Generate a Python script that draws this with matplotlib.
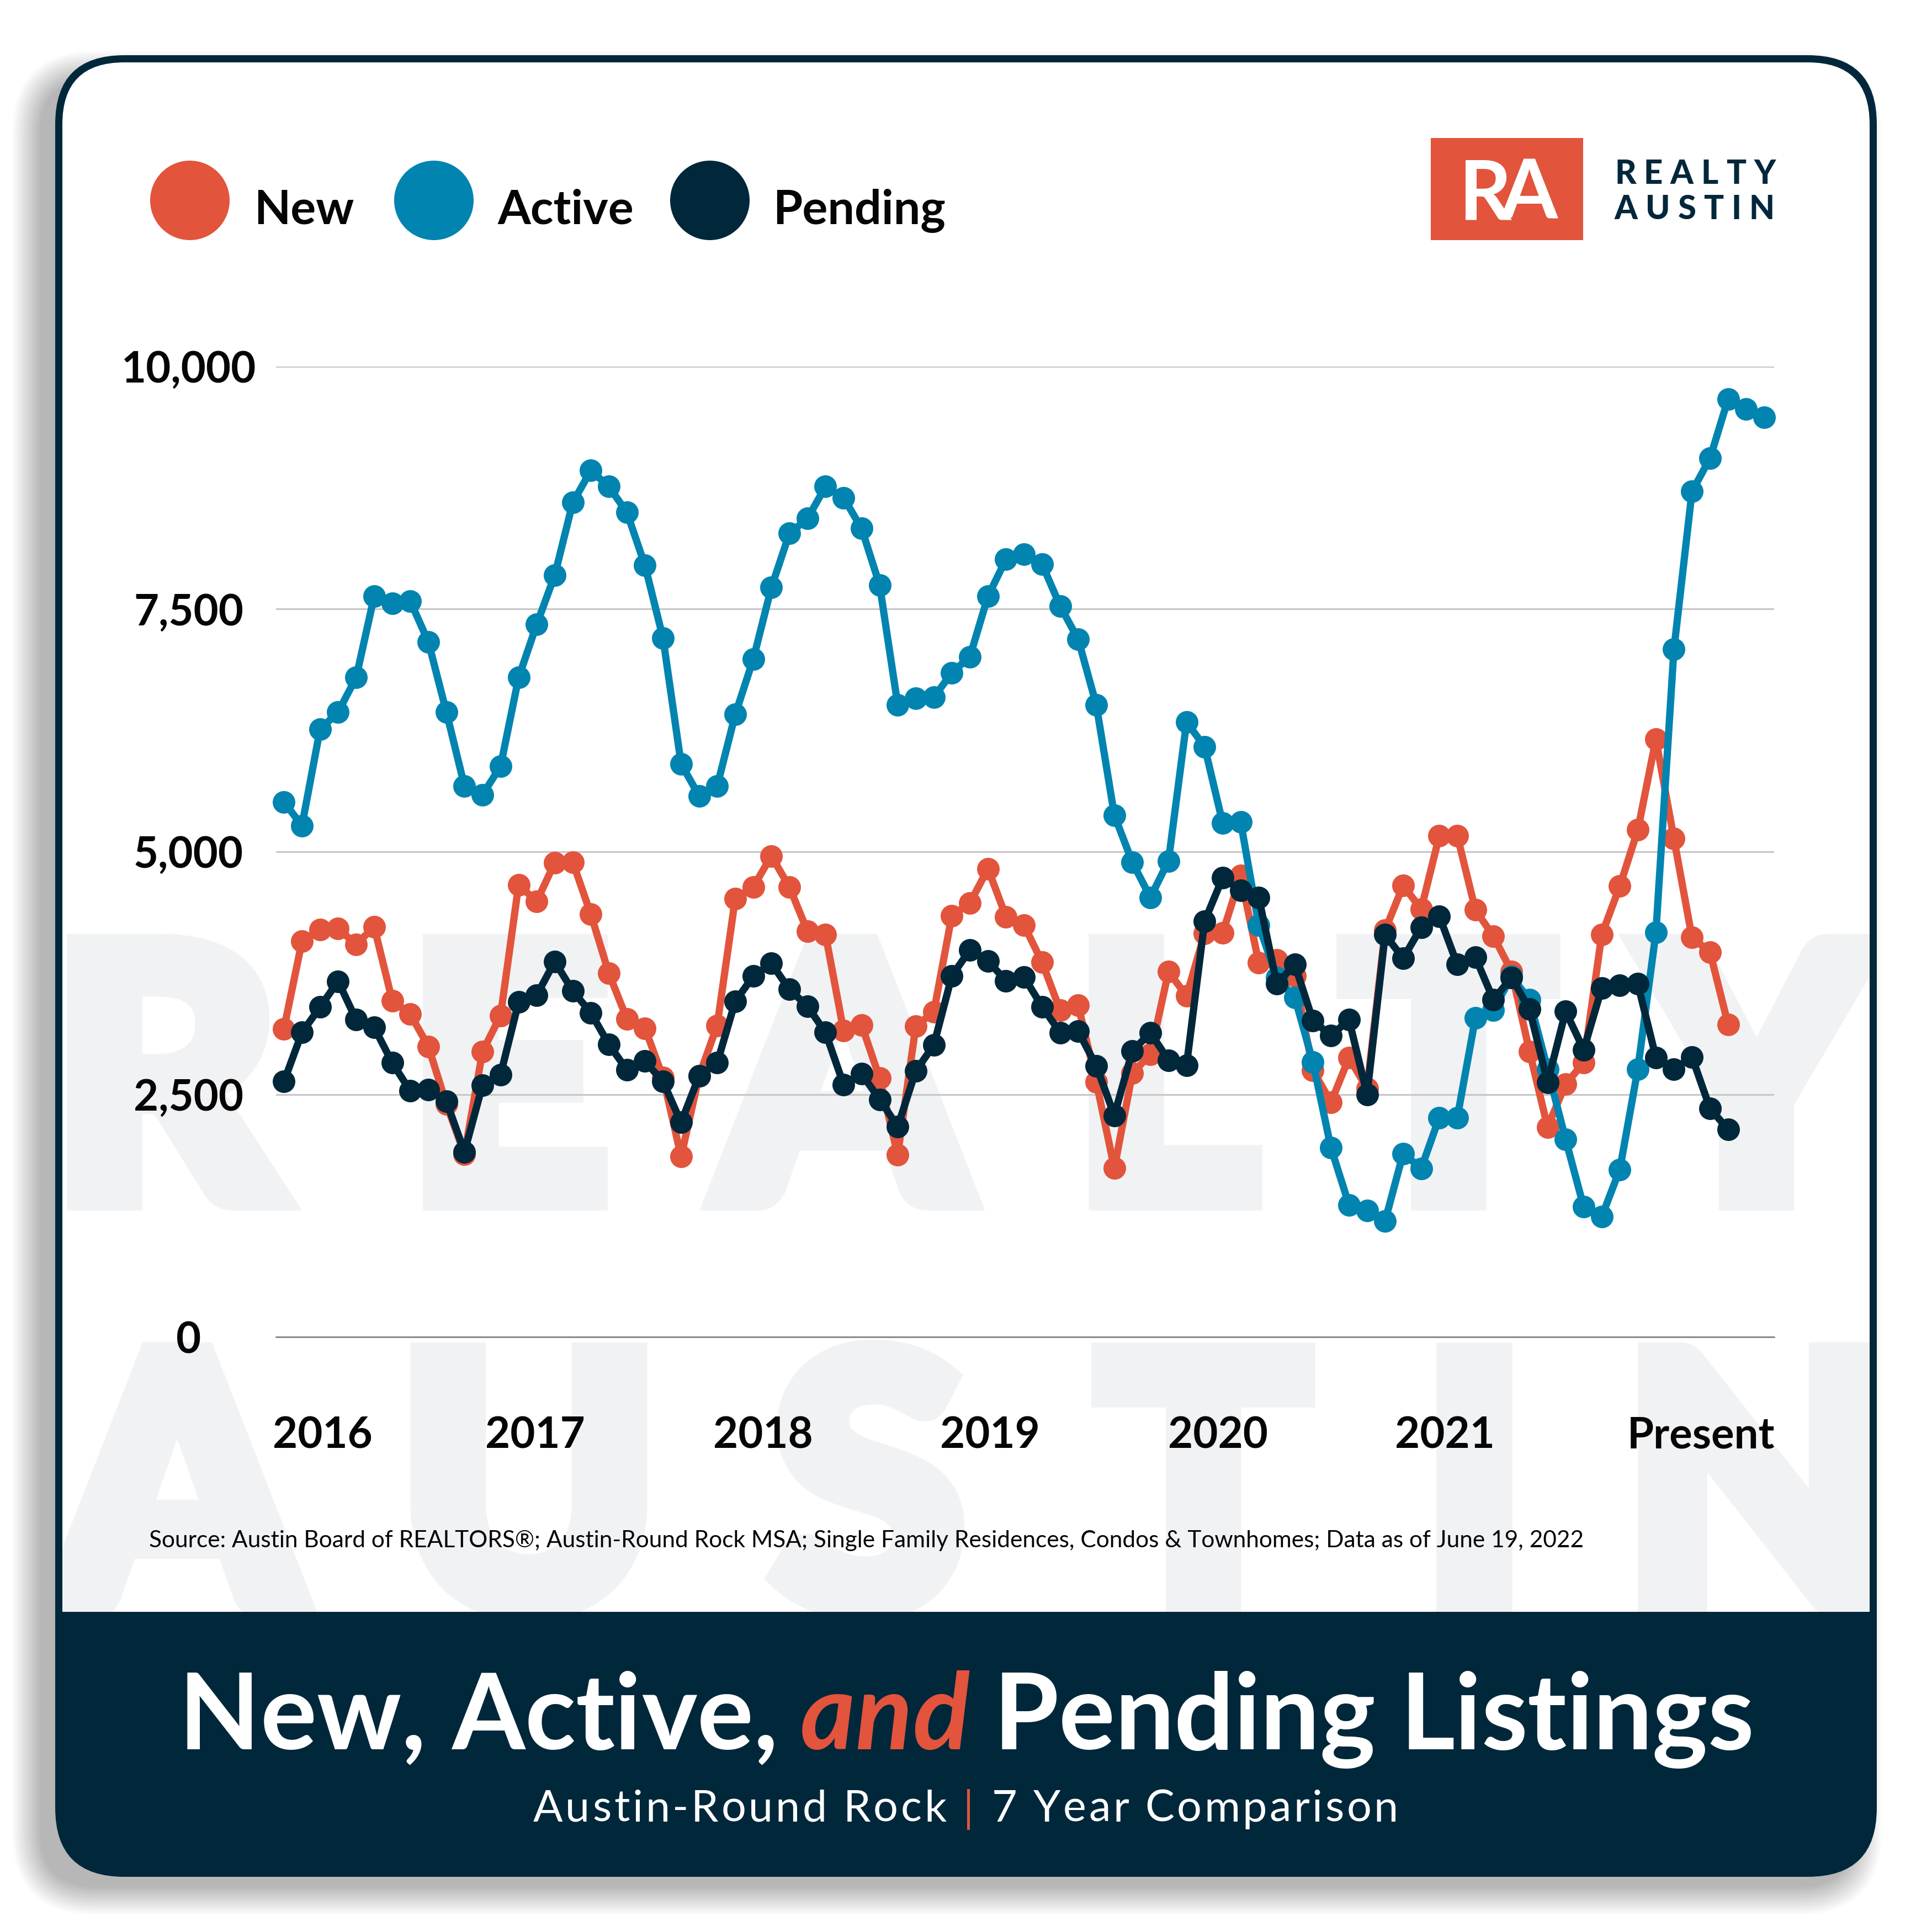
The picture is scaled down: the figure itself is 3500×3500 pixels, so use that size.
import matplotlib
matplotlib.use('Agg')
import matplotlib.pyplot as plt
import matplotlib.patheffects as pe
from matplotlib.font_manager import FontProperties
from matplotlib.patches import Circle, FancyBboxPatch, Rectangle

new_listings = [3176, 4078, 4197, 4208, 4046, 4226, 3466, 3327, 2993, 2399, 1883, 2941, 3312, 4661, 4487,
                4887, 4893, 4356, 3747, 3277, 3182, 2674, 1859, 2689, 3211, 4516, 4637, 4957, 4637, 4182,
                4147, 3158, 3216, 2666, 1877, 3202, 3350, 4343, 4470, 4826, 4330, 4242, 3861, 3365, 3416,
                2629, 1739, 2717, 2913, 3765, 3515, 4156, 4163, 4754, 3855, 3884, 3721, 2750, 2417, 2877,
                2562, 4192, 4652, 4409, 5163, 5163, 4402, 4130, 3768, 2942, 2163, 2605, 2826, 4145, 4645,
                5225, 6159, 5134, 4116, 3964, 3221]
active_listings = [5512, 5270, 6261, 6439, 6795, 7633, 7557, 7582, 7163, 6439, 5677, 5588, 5880, 6795, 7341,
                   7849, 8598, 8928, 8763, 8496, 7950, 7201, 5906, 5575, 5677, 6414, 6985, 7722, 8280, 8433,
                   8763, 8649, 8331, 7747, 6515, 6579, 6591, 6845, 7010, 7633, 8014, 8065, 7963, 7531, 7188,
                   6515, 5377, 4891, 4529, 4906, 6337, 6083, 5297, 5308, 4246, 3703, 3496, 2833, 1949, 1362,
                   1304, 1196, 1891, 1736, 2261, 2261, 3286, 3370, 3714, 3475, 2761, 2036, 1341, 1239, 1725,
                   2761, 4167, 7087, 8712, 9055, 9665, 9563, 9474]
pending_listings = [2631, 3138, 3399, 3666, 3269, 3190, 2825, 2535, 2550, 2428, 1906, 2596, 2703, 3451, 3521,
                    3869, 3565, 3341, 3014, 2753, 2842, 2631, 2210, 2689, 2825, 3457, 3718, 3849, 3582, 3408,
                    3138, 2602, 2712, 2448, 2167, 2741, 3008, 3721, 3988, 3874, 3670, 3708, 3404, 3137, 3150,
                    2794, 2283, 2949, 3134, 2852, 2797, 4283, 4732, 4601, 4529, 3638, 3837, 3261, 3105, 3268,
                    2500, 4145, 3902, 4221, 4337, 3837, 3913, 3475, 3703, 3377, 2623, 3355, 2960, 3594, 3623,
                    3638, 2880, 2761, 2884, 2355, 2138]

y_ticks = [0, 2500, 5000, 7500, 10000]
x_tick_labels = ['2016', '2017', '2018', '2019', '2020', '2021', 'Present']
x_tick_spots = [2.15, 13.9, 26.55, 39.1, 51.75, 64.3, 78.5]

RED = '#e2543c'
BLUE = '#0284b0'
NAVY = '#01273b'
INK = '#050505'
MARK = '#f1f2f4'
FONT = 'Lato'

fig = plt.figure(figsize=(35, 35), dpi=100)
bg = fig.add_axes([0, 0, 1, 1])
bg.set_xlim(0, 3500)
bg.set_ylim(3500, 0)
bg.axis('off')
renderer = fig.canvas.get_renderer()


def run_width(s, fp):
    # width with the side bearings kept, spaces count too
    dot = renderer.get_text_width_height_descent('.', fp, False)[0]
    return renderer.get_text_width_height_descent(s + '.', fp, False)[0] - dot


def put_run(x, y, s, size, color, weight=400, style='normal', tracking=0, zorder=5):
    fp = FontProperties(family=FONT, size=size, weight=weight, style=style)
    for i, ch in enumerate(s):
        if ch == ' ':
            continue
        bg.text(x + run_width(s[:i], fp) + i * tracking, y, ch, fontproperties=fp, color=color,
                ha='left', va='baseline', zorder=zorder)


# soft shadow behind the card
for i in range(24):
    grow = 26 - i * 2.2
    bg.add_patch(FancyBboxPatch((48 - grow, 118 - grow), 3335 + 2 * grow, 3325 + 2 * grow,
                                boxstyle=f'round,pad=0,rounding_size={125 + grow}',
                                fc='black', ec='none', alpha=0.0125, zorder=1))

bg.add_patch(FancyBboxPatch((100, 100), 3300, 3300, boxstyle='round,pad=0,rounding_size=125',
                            fc=NAVY, ec='none', zorder=2))
bg.add_patch(FancyBboxPatch((113, 113), 3274, 2900, boxstyle='round,pad=0,rounding_size=112',
                            fc='white', ec='none', zorder=2.1))
bg.add_patch(Rectangle((113, 2920), 3274, 200, fc=NAVY, ec='none', zorder=2.6))

# big pale words behind the chart, stroked since the source face is heavier than Lato Black
panel = Rectangle((113, 113), 3274, 2807, transform=bg.transData)
fatten = [pe.withStroke(linewidth=30, foreground=MARK, joinstyle='miter')]
for ch, cx in zip('REALTY', [300, 921, 1526, 2110, 2624, 3182]):
    t = bg.text(cx, 2172, ch, family=FONT, weight=900, size=456, color=MARK, ha='center', va='baseline',
                zorder=2.3, clip_on=True, path_effects=fatten)
    t.set_clip_path(panel)
for ch, cx in zip('AUSTIN', [321, 958, 1573, 2180, 2671, 3185]):
    t = bg.text(cx, 2912, ch, family=FONT, weight=900, size=456, color=MARK, ha='center', va='baseline',
                zorder=2.3, clip_on=True, path_effects=fatten)
    t.set_clip_path(panel)

# legend
for cx, name, lx, col in [(344, 'New', 460, RED), (786, 'Active', 901, BLUE), (1286, 'Pending', 1400, NAVY)]:
    bg.add_patch(Circle((cx, 363), 72, fc=col, ec='none', zorder=5))
    bg.text(lx, 406, name, family=FONT, weight='bold', size=62, color=INK, ha='left', va='baseline', zorder=5)

# logo
bg.add_patch(Rectangle((2592, 250), 276, 185, fc=RED, ec='none', zorder=5))
bg.text(2643, 397, 'R', family=FONT, weight='bold', size=107, color='white', ha='left', va='baseline', zorder=6)
bg.text(2822, 397, 'A', family=FONT, weight='bold', size=107, color='white', ha='right', va='baseline', zorder=6)
put_run(2925, 333, 'REALTY', 43, NAVY, weight=900, tracking=14)
put_run(2925, 397, 'AUSTIN', 43, NAVY, weight=900, tracking=14)

# source line
bg.text(270, 2803, 'Source: Austin Board of REALTORS®; Austin-Round Rock MSA; Single Family Residences, '
        'Condos & Townhomes; Data as of June 19, 2022', family=FONT, size=30.5, color=INK, ha='left', va='baseline', zorder=5)

# banner text
put_run(324, 3169, 'New, Active, ', 137.5, 'white', weight='bold')
put_run(1450, 3169, 'and', 137.5, RED, weight='bold', style='italic')
put_run(1800, 3169, 'Pending Listings', 137.5, 'white', weight='bold', tracking=-0.4)
put_run(966, 3300, 'Austin-Round Rock', 57, 'white', tracking=4.7)
bg.add_patch(Rectangle((1752, 3241), 5, 74, fc=RED, ec='none', zorder=5))
put_run(1797, 3300, '7 Year Comparison', 57, 'white', tracking=4.5)

# the chart itself
ax = fig.add_axes([500 / 3500, 1 - 2422 / 3500, 2714 / 3500, 1758 / 3500], zorder=3)
ax.patch.set_alpha(0)
ax.plot(range(len(new_listings)), new_listings, color=RED, lw=9.5, marker='o', ms=29.5, mew=0, zorder=3, clip_on=False)
ax.plot(range(len(active_listings)), active_listings, color=BLUE, lw=9.5, marker='o', ms=29.5, mew=0, zorder=4, clip_on=False)
ax.plot(range(len(pending_listings)), pending_listings, color=NAVY, lw=9.5, marker='o', ms=29.5, mew=0, zorder=5, clip_on=False)
ax.set_xlim(-0.44, 82.55)
ax.set_ylim(0, 10000)
ax.set_yticks(y_ticks)
ax.set_yticklabels([format(v, ',') for v in y_ticks], family=FONT, weight='bold', size=56, color=INK, ha='center')
ax.set_xticks(x_tick_spots)
ax.set_xticklabels(x_tick_labels, family=FONT, weight='bold', size=56, color=INK)
ax.tick_params(axis='y', length=0, pad=114)
ax.tick_params(axis='x', length=0, pad=103)
ax.grid(axis='y', color='#c6c6c6', lw=2.2)
ax.grid(axis='x', visible=False)
ax.set_axisbelow(True)
for side in ['top', 'left', 'right']:
    ax.spines[side].set_visible(False)
ax.spines['bottom'].set_color('#7a7a7a')
ax.spines['bottom'].set_linewidth(1.8)

fig.savefig('out.png', dpi=100)
